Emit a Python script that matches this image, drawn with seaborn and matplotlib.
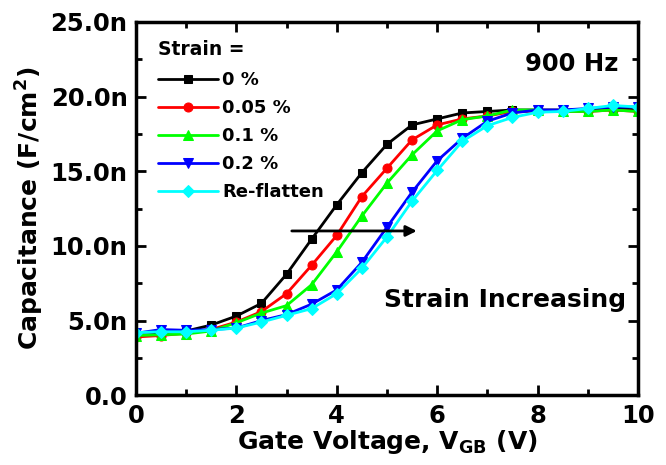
import numpy as np
import pandas as pd
import matplotlib.pyplot as plt
import seaborn as sns
from matplotlib.ticker import MultipleLocator, FuncFormatter

# ---- data ----
voltage = [0, 0.5, 1, 1.5, 2, 2.5, 3, 3.5, 4, 4.5, 5, 5.5, 6, 6.5, 7, 7.5, 8, 8.5, 9, 9.5, 10]

cap_0 = [4.0, 4.1, 4.3, 4.7, 5.3, 6.15, 8.1, 10.45, 12.75, 14.9, 16.8, 18.1, 18.5, 18.9, 19.0, 19.1,
         19.1, 19.1, 19.1, 19.2, 19.1]
cap_005 = [3.9, 4.0, 4.15, 4.4, 4.9, 5.6, 6.8, 8.7, 10.7, 13.3, 15.2, 17.1, 18.1, 18.5, 18.7, 19.0,
           19.0, 19.0, 19.0, 19.1, 19.0]
cap_01 = [4.0, 4.05, 4.1, 4.3, 4.85, 5.5, 6.0, 7.4, 9.6, 12.0, 14.2, 16.1, 17.7, 18.45, 18.7, 19.1,
          19.1, 19.0, 19.0, 19.1, 19.0]
cap_02 = [4.15, 4.4, 4.35, 4.4, 4.5, 5.0, 5.4, 6.1, 7.05, 8.9, 11.25, 13.6, 15.7, 17.2, 18.35, 18.9,
          19.1, 19.1, 19.2, 19.3, 19.3]
cap_reflat = [4.2, 4.25, 4.25, 4.35, 4.5, 4.9, 5.35, 5.8, 6.8, 8.5, 10.6, 13.0, 15.05, 17.0, 18.05, 18.6,
              18.95, 19.0, 19.2, 19.4, 19.3]

labels = ["0 %", "0.05 %", "0.1 %", "0.2 %", "Re-flatten"]
colors = ["#000000", "#FF0000", "#00FF00", "#0000FF", "#00FFFF"]
markers = ["s", "o", "^", "v", "D"]
msizes = [5.5, 6.5, 6.5, 6.5, 6.5]

df = pd.DataFrame({"V": voltage * 5,
                   "C": cap_0 + cap_005 + cap_01 + cap_02 + cap_reflat,
                   "strain": sum([[l] * len(voltage) for l in labels], [])})

# ---- style ----
sns.set_style("ticks")
plt.rcParams["font.family"] = ["DejaVu Sans"]
plt.rcParams["font.weight"] = "bold"
plt.rcParams["mathtext.default"] = "bf"
for k in ["text.color", "axes.labelcolor", "xtick.color", "ytick.color", "axes.edgecolor"]:
    plt.rcParams[k] = "black"

fig, ax = plt.subplots(figsize=(6.66, 4.65), dpi=100)
fig.subplots_adjust(left=0.204, right=0.958, top=0.953, bottom=0.150)

for lab, col, mk, ms in zip(labels, colors, markers, msizes):
    sub = df[df["strain"] == lab]
    sns.lineplot(data=sub, x="V", y="C", ax=ax, color=col, marker=mk, markersize=ms,
                 markeredgecolor=col, linewidth=2, label=lab)

ax.set_xlim(0, 10)
ax.set_ylim(0, 25)
ax.xaxis.set_major_locator(MultipleLocator(2))
ax.xaxis.set_minor_locator(MultipleLocator(1))
ax.yaxis.set_major_locator(MultipleLocator(5))
ax.yaxis.set_minor_locator(MultipleLocator(2.5))
ax.yaxis.set_major_formatter(FuncFormatter(lambda v, p: "0.0" if v == 0 else f"{v:.1f}n"))
ax.xaxis.set_major_formatter(FuncFormatter(lambda v, p: f"{v:g}"))

ax.tick_params(which="both", direction="in", top=True, right=True, width=2)
ax.tick_params(which="major", length=7, labelsize=17.5, pad=6)
ax.tick_params(which="minor", length=4)
for lab in ax.get_xticklabels() + ax.get_yticklabels():
    lab.set_fontweight("bold")
for s in ax.spines.values():
    s.set_linewidth(2.5)
    s.set_color("black")

ax.set_xlabel("Gate Voltage, V$_{\\mathbf{GB}}$ (V)", fontsize=18, fontweight="bold", labelpad=0)
ax.set_ylabel("Capacitance (F/cm$^{\\mathbf{2}}$)", fontsize=18, fontweight="bold", labelpad=3)

leg = ax.legend(title="Strain =", loc="upper left", frameon=False, fontsize=13,
                title_fontproperties={"weight": "bold", "size": 13.5},
                handlelength=3.3, handletextpad=0.25, labelspacing=0.56,
                borderaxespad=0.0, bbox_to_anchor=(0.03, 0.972))
leg._legend_box.align = "left"
leg._legend_box.sep = 9

ax.annotate("", xy=(5.65, 11.0), xytext=(3.05, 11.0),
            arrowprops=dict(arrowstyle="-|>", color="black", lw=2, mutation_scale=16))
ax.text(7.35, 6.4, "Strain Increasing", fontsize=18, fontweight="bold", ha="center", va="center")
ax.text(9.6, 22.2, "900 Hz", fontsize=17.5, fontweight="bold", ha="right", va="center")

fig.savefig("out.png", dpi=100)
